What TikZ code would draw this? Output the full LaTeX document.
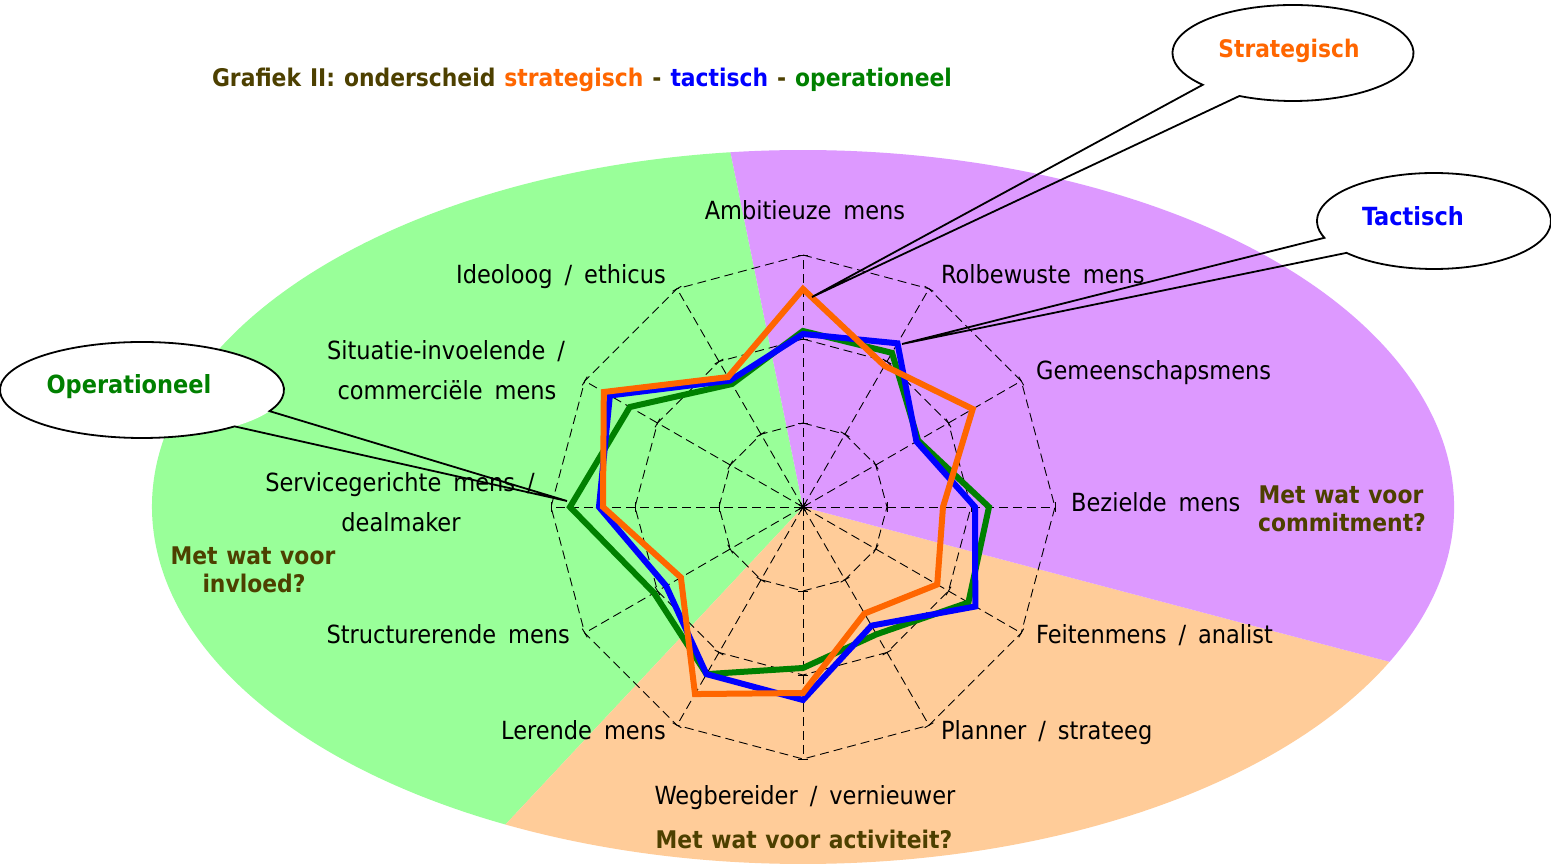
\documentclass[tikz,border=0pt]{standalone}
\usepackage{fontspec}
\setmainfont{DejaVu Sans Condensed}
\usetikzlibrary{calc}
\definecolor{pieGreen}{HTML}{99FF99}
\definecolor{piePurple}{HTML}{DD99FF}
\definecolor{pieOrange}{HTML}{FFCC99}
\definecolor{textOlive}{HTML}{4D4000}
\definecolor{serOrange}{HTML}{FF6600}
\definecolor{serBlue}{HTML}{0000FF}
\definecolor{serGreen}{HTML}{008000}
% fonts with widened word spaces
\newcommand\axisfont{\fontsize{25}{30}\selectfont\spaceskip 12pt\relax}
\newcommand\regionfont{\fontsize{24.3}{28}\selectfont\bfseries\spaceskip 8.6pt\relax}
\newcommand\titlefont{\fontsize{24.3}{28}\selectfont\bfseries\spaceskip 9pt\relax}
\begin{document}
\begin{tikzpicture}[x=1pt,y=1pt,
  axisline/.style={black, line width=0.9pt, dash pattern=on 9pt off 5pt},
  tickline/.style={black, line width=0.9pt},
  series/.style={line width=6pt, line join=miter},
  axislabel/.style={font=\axisfont, inner sep=0pt},
  regionlabel/.style={font=\regionfont, text=textOlive, inner sep=0pt, anchor=base},
  calloutline/.style={black, line width=1.8pt, line join=miter},
  callouttext/.style={font=\fontsize{25}{28}\selectfont\bfseries, inner sep=0pt, anchor=base}
]
\useasboundingbox (-803,-360) rectangle (748,507);
\fill[white] (-803,-360) rectangle (748,507);

% three coloured segments of the background ellipse
\fill[pieGreen] (0,0) -- (96.4:651 and 357) arc[start angle=96.4, end angle=242.8, x radius=651, y radius=357] -- cycle;
\fill[pieOrange] (0,0) -- (242.8:651 and 357) arc[start angle=242.8, end angle=334.3, x radius=651, y radius=357] -- cycle;
\fill[piePurple] (0,0) -- (-25.7:651 and 357) arc[start angle=-25.7, end angle=96.4, x radius=651, y radius=357] -- cycle;

% radar grid: spokes, rings and tick marks
\foreach \i in {0,...,11}{
  \draw[axisline] (0,0) -- ({90-30*\i}:252);
}
\foreach \r in {84,168,252}{
  \draw[axisline] (90:\r) \foreach \k in {1,...,11}{ -- ({90-30*\k}:\r) } -- cycle;
}
\foreach \i in {0,...,11}{
  \foreach \r in {0,84,168,252}{
    \draw[tickline, rotate={90-30*\i}] (\r,-5) -- (\r,5);
  }
}

% data series
\draw[series, serGreen] (90:176) -- (60:178) -- (30:133) -- (0:186) -- (-30:191) -- (-60:147)
  -- (-90:161) -- (-120:193) -- (-150:172) -- (180:233) -- (150:200) -- (120:142) -- cycle;
\draw[series, serBlue] (90:173) -- (60:189) -- (30:131) -- (0:172) -- (-30:199) -- (-60:137)
  -- (-90:193) -- (-120:193) -- (-150:158) -- (180:204) -- (150:223) -- (120:146) -- cycle;
\draw[series, serOrange] (90:218) -- (60:163) -- (30:196) -- (0:140) -- (-30:155) -- (-60:123)
  -- (-90:186) -- (-120:216) -- (-150:141) -- (180:200) -- (150:230) -- (120:150) -- cycle;

% axis labels
\node[axislabel, anchor=base] (ambitieus) at (2,287) {Ambitieuze mens};
\node[axislabel, anchor=base west] (rolbewust) at (138,223) {Rolbewuste mens};
\node[axislabel, anchor=base west] (gemeenschap) at (233,127) {Gemeenschapsmens};
\node[axislabel, anchor=base west] (bezield) at (268,-5) {Bezielde mens};
\node[axislabel, anchor=base west] (feiten) at (233,-137) {Feitenmens / analist};
\node[axislabel, anchor=base west] (planner) at (138,-233) {Planner / strateeg};
\node[axislabel, anchor=base] (wegbereider) at (2,-297) {Wegbereider / vernieuwer};
\node[axislabel, anchor=base east] (lerend) at (-137,-233) {Lerende mens};
\node[axislabel, anchor=base east] (structuur) at (-233,-137) {Structurerende mens};
\node[axislabel, anchor=base] (service) at (-403,15) {Servicegerichte mens /};
\node[axislabel, anchor=base] (dealmaker) at (-402,-25) {dealmaker};
\node[axislabel, anchor=base] (situatie) at (-357,147) {Situatie-invoelende /};
\node[axislabel, anchor=base] (commercieel) at (-356,107) {commerciële mens};
\node[axislabel, anchor=base east] (ideoloog) at (-137,223) {Ideoloog / ethicus};

% segment captions
\node[regionlabel] (invloed1) at (-550,-58) {Met wat voor};
\node[regionlabel] (invloed2) at (-549,-86) {invloed?};
\node[regionlabel] (commit1) at (538,3) {Met wat voor};
\node[regionlabel] (commit2) at (539,-25) {commitment?};
\node[regionlabel] (activiteit) at (1,-341) {Met wat voor activiteit?};

% title
\node[font=\titlefont, inner sep=0pt, anchor=base] (title) at (-221,420)
  {\textcolor{textOlive}{Grafiek II: onderscheid} \textcolor{serOrange}{strategisch} \textcolor{textOlive}{-} \textcolor{serBlue}{tactisch} \textcolor{textOlive}{-} \textcolor{serGreen}{operationeel}};

% callouts
\coordinate (tipS) at (9,210);
\coordinate (tipT) at (99,163);
\coordinate (tipO) at (-236,6);

\coordinate (stratC) at (490,454);
\fill[white] (stratC) ellipse [x radius=120.5, y radius=48];
\draw[calloutline] ($(stratC)+(243.6:120.5 and 48)$) arc[start angle=243.6, end angle=581.5, x radius=120.5, y radius=48] -- (tipS) -- cycle;
\node[callouttext, text=serOrange, font=\fontsize{24.2}{28}\selectfont\bfseries] (stratLabel) at (486,449) {Strategisch};

\coordinate (tactC) at (631,286);
\fill[white] (tactC) ellipse [x radius=117, y radius=48];
\draw[calloutline] ($(tactC)+(221.6:117 and 48)$) arc[start angle=221.6, end angle=560.5, x radius=117, y radius=48] -- (tipT) -- cycle;
\node[callouttext, text=serBlue] (tactLabel) at (610,281) {Tactisch};

\coordinate (operC) at (-661,117);
\fill[white] (operC) ellipse [x radius=142, y radius=48];
\draw[calloutline] ($(operC)+(-26.1:142 and 48)$) arc[start angle=-26.1, end angle=310.7, x radius=142, y radius=48] -- (tipO) -- cycle;
\node[callouttext, text=serGreen] (operLabel) at (-674,113) {Operationeel};
\end{tikzpicture}
\end{document}
